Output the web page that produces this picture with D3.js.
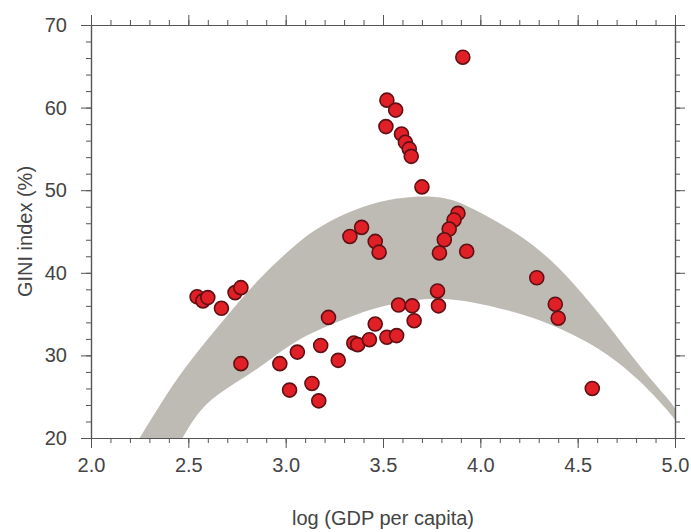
<!DOCTYPE html>
<html>
<head>
<meta charset="utf-8">
<script src="https://cdn.jsdelivr.net/npm/d3@7"></script>
<style>
	body { margin: 0; background: #fff; }
	text { font-family: "Liberation Sans", Arial, sans-serif; fill: #444; }
</style>
</head>
<body>
<div id="chart"></div>
<script>
let WIDTH = 691;
let HEIGHT = 532;
let MARGIN = { top: 25, right: 16, bottom: 94, left: 91 };

let X_TICKS = [2.0, 2.5, 3.0, 3.5, 4.0, 4.5, 5.0];
let Y_TICKS = [20, 30, 40, 50, 60, 70];

// country points: log(GDP per capita), GINI index
let gdpLog = [3.91, 3.52, 3.565, 3.515, 3.595, 3.615, 3.635, 3.645, 3.70,
	3.33, 3.39, 3.46, 3.48, 3.885, 3.865, 3.84, 3.815, 3.79, 3.93,
	4.29, 4.385, 4.40, 4.575, 3.78, 3.785, 3.58, 3.65, 3.66,
	3.22, 3.46, 3.35, 3.37, 3.43, 3.52, 3.57, 3.18, 3.06, 3.27, 2.97,
	3.02, 3.135, 3.17, 2.545, 2.575, 2.60, 2.67, 2.74, 2.77, 2.77];
let gini = [66.1, 60.9, 59.7, 57.7, 56.8, 55.8, 55.0, 54.1, 50.4,
	44.4, 45.5, 43.8, 42.5, 47.2, 46.4, 45.3, 44.0, 42.4, 42.6,
	39.4, 36.2, 34.5, 26.0, 37.8, 36.0, 36.1, 36.0, 34.2,
	34.6, 33.8, 31.5, 31.3, 31.9, 32.2, 32.4, 31.2, 30.4, 29.4, 29.0,
	25.8, 26.6, 24.5, 37.1, 36.6, 37.0, 35.7, 37.6, 38.2, 29.0];

// shaded band, upper and lower edges
let bandUpperX = [2.25, 2.39, 2.51, 2.68, 2.85, 3.01, 3.14, 3.32, 3.48, 3.65, 3.83, 3.96, 4.14, 4.31, 4.48, 4.65, 4.82, 4.97, 5.0];
let bandUpperY = [20.0, 25.4, 29.4, 34.3, 39.0, 42.6, 45.2, 47.4, 48.7, 49.3, 49.2, 47.8, 45.5, 42.8, 38.8, 33.9, 28.6, 24.6, 23.6];
let bandLowerX = [2.47, 2.56, 2.68, 2.85, 3.02, 3.14, 3.32, 3.48, 3.65, 3.79, 3.96, 4.14, 4.31, 4.48, 4.65, 4.82, 4.96, 5.0];
let bandLowerY = [20.0, 23.6, 25.8, 28.2, 31.3, 32.8, 34.6, 35.9, 36.7, 37.0, 36.5, 35.5, 34.3, 32.5, 30.3, 27.0, 23.4, 22.2];

let svg = d3.select("#chart").append("svg").
	attr("width", WIDTH).
	attr("height", HEIGHT);

let x = d3.scaleLinear().domain([2, 5]).range([MARGIN.left, WIDTH - MARGIN.right]);
let y = d3.scaleLinear().domain([20, 70]).range([HEIGHT - MARGIN.bottom, MARGIN.top]);

svg.append("clipPath").attr("id", "plot").append("rect").
	attr("x", x(2)).attr("y", y(70)).
	attr("width", x(5) - x(2)).attr("height", y(20) - y(70));

// band polygon: upper edge left to right, lower edge right to left
let upper = bandUpperX.map((d, i) => [x(d), y(bandUpperY[i])]);
let lower = bandLowerX.map((d, i) => [x(d), y(bandLowerY[i])]).reverse();
let line = d3.line().curve(d3.curveBasis);
svg.append("path").
	attr("clip-path", "url(#plot)").
	attr("d", line(upper) + "L" + line(lower).slice(1) + "Z").
	attr("fill", "#bdbbb3");

// axes, ticks outward on all four sides
let xMinor = d3.range(20, 51).map(d => d / 10);
let yMinor = d3.range(20, 71, 2);
let axisColor = "#555";

function styleAxis(g) {
	g.select(".domain").attr("stroke", axisColor).attr("stroke-width", 1.2);
	g.selectAll(".tick line").attr("stroke", axisColor);
	g.selectAll("text").attr("font-size", 20).attr("fill", "#444");
}

let sides = [
	[d3.axisBottom(x), `translate(0,${y(20)})`, 10],
	[d3.axisTop(x), `translate(0,${y(70)})`, 0],
	[d3.axisLeft(y), `translate(${x(2)},0)`, 14],
	[d3.axisRight(y), `translate(${x(5)},0)`, 0]
];
sides.forEach(([axis, tr, pad], i) => {
	let horizontal = i < 2;
	svg.append("g").attr("transform", tr).
		call(axis.tickValues(horizontal ? xMinor : yMinor).tickSize(5).tickFormat("").tickSizeOuter(0)).
		call(styleAxis);
	let g = svg.append("g").attr("transform", tr).
		call(axis.tickValues(horizontal ? X_TICKS : Y_TICKS).tickSize(10).tickSizeOuter(0).tickPadding(pad).
			tickFormat(horizontal ? d3.format(".1f") : d3.format("d"))).
		call(styleAxis);
	if(!pad) {
		g.selectAll("text").remove();
	}
});

// points
svg.append("g").
	selectAll("circle").
	data(gdpLog).
	join("circle").
	attr("cx", d => x(d)).
	attr("cy", (d, i) => y(gini[i])).
	attr("r", 7).
	attr("fill", "#e01f27").
	attr("stroke", "#5e1014").
	attr("stroke-width", 1.6);

svg.append("text").
	attr("transform", `translate(32,${(y(20) + y(70)) / 2}) rotate(-90)`).
	attr("text-anchor", "middle").
	attr("font-size", 20).
	text("GINI index (%)");

svg.append("text").
	attr("x", (x(2) + x(5)) / 2).
	attr("y", 525).
	attr("text-anchor", "middle").
	attr("font-size", 20).
	text("log (GDP per capita)");
</script>
</body>
</html>
